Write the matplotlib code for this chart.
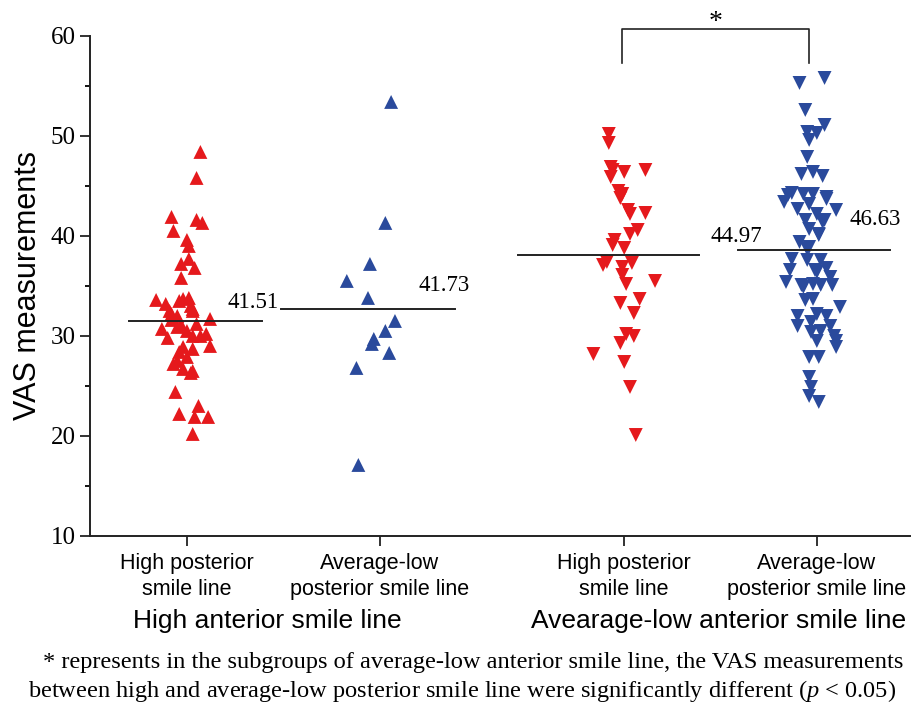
import numpy as np
import matplotlib
matplotlib.use("Agg")
import matplotlib.pyplot as plt

plt.rcParams["mathtext.fontset"] = "custom"
plt.rcParams["mathtext.it"] = "Liberation Serif:italic"
plt.rcParams["mathtext.rm"] = "Liberation Serif"

SERIF = "Liberation Serif"
SANS = "Liberation Sans"
RED = "#E5191C"
BLUE = "#2A4A9C"

# category positions on the x axis (gap between the two anterior groups)
positions = [1.0, 2.0, 3.27, 4.27]
tick_labels = ["High posterior\nsmile line", "Average-low\nposterior smile line",
               "High posterior\nsmile line", "Average-low\nposterior smile line"]
group_labels = ["High anterior smile line", "Avearage-low anterior smile line"]

# high anterior / high posterior (red, up)
g1_x = [1.07, 1.05, 0.92, 1.05, 1.08, 0.93, 1.00, 1.01, 1.01, 0.97, 1.04, 0.97,
        0.84, 0.89, 0.96, 1.01, 0.98, 0.91, 0.92, 1.02, 1.03, 1.03, 1.12,
        0.92, 0.87, 0.95, 0.97, 1.00, 1.10, 0.90, 1.03, 1.07, 1.12, 0.98, 1.03,
        0.96, 0.95, 1.00, 0.93, 0.98, 1.03, 1.02, 0.94, 1.06, 0.96, 1.04, 1.11,
        1.03, 0.95, 1.05]
g1_y = [48.4, 45.8, 41.9, 41.6, 41.3, 40.5, 39.6, 39.0, 37.7, 37.2, 36.8, 35.8,
        33.6, 33.2, 33.5, 33.8, 33.7, 32.5, 32.2, 33.0, 32.5, 32.7, 31.7,
        31.6, 30.7, 30.9, 31.1, 30.5, 30.2, 29.8, 30.0, 30.0, 29.0, 28.9, 28.7,
        28.4, 27.5, 27.9, 27.2, 26.7, 26.5, 26.3, 24.4, 23.0, 22.2, 21.9, 21.9,
        20.2, 32.0, 31.2]

# high anterior / average-low posterior (blue, up)
g2_x = [2.06, 2.03, 1.95, 1.83, 1.94, 2.08, 2.03, 1.97, 1.96, 2.05, 1.88, 1.89]
g2_y = [53.4, 41.3, 37.2, 35.5, 33.8, 31.5, 30.5, 29.7, 29.2, 28.3, 26.8, 17.1]

# average-low anterior / high posterior (red, down)
g3_x = [3.19, 3.19, 3.20, 3.21, 3.20, 3.27, 3.38, 3.24, 3.26, 3.25, 3.29, 3.30,
        3.38, 3.34, 3.30, 3.22, 3.21, 3.27, 3.18, 3.16, 3.26, 3.31, 3.26, 3.43,
        3.28, 3.35, 3.25, 3.32, 3.28, 3.32, 3.25, 3.11, 3.27, 3.30, 3.33]
g3_y = [50.2, 49.3, 46.9, 46.6, 45.9, 46.4, 46.6, 44.5, 44.2, 43.8, 42.6, 42.2,
        42.3, 40.6, 40.2, 39.6, 39.1, 38.8, 37.4, 37.1, 36.9, 37.3, 36.1, 35.5,
        35.2, 33.7, 33.3, 32.3, 30.2, 30.0, 29.3, 28.2, 27.4, 24.9, 20.1]

# average-low anterior / average-low posterior (blue, down)
g4_x = [4.18, 4.31, 4.21, 4.31, 4.22, 4.27, 4.23, 4.22, 4.19, 4.25, 4.30, 4.14,
        4.10, 4.20, 4.25, 4.32, 4.23, 4.17, 4.37, 4.27, 4.21, 4.30, 4.23, 4.28,
        4.18, 4.23, 4.14, 4.22, 4.29, 4.13, 4.27, 4.11, 4.34, 4.20, 4.25, 4.29,
        4.35, 4.21, 4.25, 4.39, 4.17, 4.27, 4.32, 4.17, 4.24, 4.34, 4.24, 4.29,
        4.36, 4.27, 4.37, 4.37, 4.23, 4.28, 4.23, 4.24, 4.23, 4.28,
        4.12, 4.32, 4.31, 4.28, 4.22, 4.32, 4.26, 4.19]
g4_y = [55.3, 55.8, 52.6, 51.1, 50.4, 50.3, 49.6, 47.9, 46.2, 46.4, 46.0, 44.3,
        43.4, 44.2, 44.2, 43.9, 43.2, 42.7, 42.6, 42.2, 41.6, 41.4, 40.7, 40.1,
        39.4, 38.9, 37.7, 37.6, 37.6, 36.6, 36.4, 35.4, 35.9, 34.9, 35.2, 35.1,
        35.1, 33.6, 33.7, 32.9, 32.0, 32.2, 32.0, 31.0, 31.4, 31.0, 30.4, 30.5,
        30.0, 29.5, 29.5, 28.9, 27.9, 27.9, 25.9, 24.9, 24.0, 23.4,
        44.1, 43.7, 41.6, 40.2, 38.7, 36.8, 36.6, 35.1]

# horizontal reference lines and the numbers printed beside them
line_y = [31.5, 32.7, 38.1, 38.6]
line_span = [(0.70, 1.39), (1.49, 2.39), (2.72, 3.66), (3.86, 4.65)]
line_text = ["41.51", "41.73", "44.97", "46.63"]
text_xy = [(1.21, 32.3), (2.20, 34.0), (3.72, 38.9), (4.44, 40.6)]

fig = plt.figure(figsize=(9.13, 7.02), dpi=100)
ax = fig.add_axes([0.0986, 0.2365, 0.898, 0.7123])

groups = [(g1_x, g1_y, RED, "^"), (g2_x, g2_y, BLUE, "^"),
          (g3_x, g3_y, RED, "v"), (g4_x, g4_y, BLUE, "v")]
for xs, ys, c, m in groups:
    ax.scatter(xs, ys, s=100, marker=m, color=c, edgecolors="none", zorder=3)

for y, (x0, x1), t, (tx, ty) in zip(line_y, line_span, line_text, text_xy):
    ax.plot([x0, x1], [y, y], color="#222222", lw=1.4, zorder=4)
    ax.text(tx, ty, t, fontsize=16.5, family=SERIF, ha="left", va="bottom")

# significance bracket
bx0, bx1, btop, bbot = 3.26, 4.23, 60.67, 57.3
ax.plot([bx0, bx0, bx1, bx1], [bbot, btop, btop, bbot], color="#222222",
        lw=1.2, clip_on=False)
ax.text((bx0 + bx1) / 2, 61.3, "*", fontsize=20, family=SERIF, ha="center",
        va="center")

ax.set_xlim(0.497, 4.753)
ax.set_ylim(10, 60)
ax.set_yticks(np.arange(10, 61, 10))
ax.set_yticks(np.arange(15, 60, 10), minor=True)
ax.set_xticks(positions)
ax.set_xticklabels(tick_labels, family=SANS, fontsize=15.5, linespacing=1.35)
for lab in ax.get_yticklabels():
    lab.set_family(SERIF)
    lab.set_fontsize(18)
ax.tick_params(axis="both", which="major", direction="out", length=7,
               width=1.3, color="#222222")
ax.tick_params(axis="y", which="minor", direction="out", length=3.5, width=1.3)
ax.tick_params(axis="x", pad=5)
for sp in ("top", "right"):
    ax.spines[sp].set_visible(False)
for sp in ("left", "bottom"):
    ax.spines[sp].set_linewidth(1.4)
    ax.spines[sp].set_color("#222222")
ax.set_ylabel("VAS measurements", family=SANS, fontsize=22, labelpad=5)

fig.text(0.293, 0.1154, group_labels[0], family=SANS, fontsize=19,
         ha="center", va="center")
fig.text(0.7875, 0.1154, group_labels[1], family=SANS, fontsize=19,
         ha="center", va="center")
fig.text(0.518, 0.056,
         "* represents in the subgroups of average-low anterior smile line, "
         "the VAS measurements", family=SERIF, fontsize=17.6, ha="center",
         va="center")
fig.text(0.506, 0.016,
         r"between high and average-low posterior smile line were "
         r"significantly different ($\it{p}$ < 0.05)", family=SERIF,
         fontsize=17.6, ha="center", va="center")

fig.savefig("out.png", dpi=100)
